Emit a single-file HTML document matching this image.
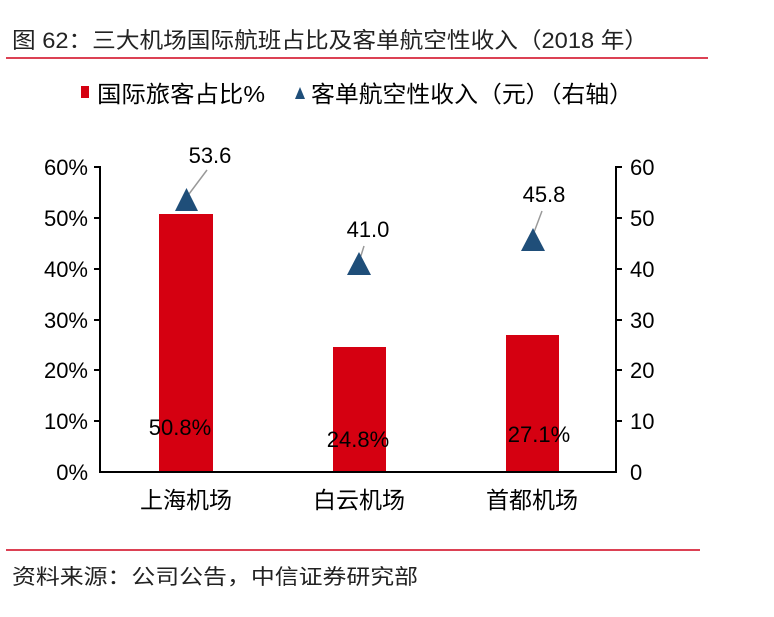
<!DOCTYPE html>
<html><head><meta charset="utf-8"><style>
body{margin:0;background:#fff;}
svg text{font-family:"Liberation Sans","Noto Sans CJK SC",sans-serif;}
</style></head><body>
<svg width="774" height="612" xmlns="http://www.w3.org/2000/svg">
<text x="12" y="48" font-size="22" fill="#222" textLength="636" lengthAdjust="spacingAndGlyphs">图 62：三大机场国际航班占比及客单航空性收入（2018 年）</text>
<line x1="6" y1="58" x2="708" y2="58" stroke="#d0021b" stroke-width="1.5"/>
<rect x="81" y="86" width="8" height="12" fill="#d50011"/>
<text x="97" y="102" font-size="23" fill="#000" textLength="168" lengthAdjust="spacingAndGlyphs">国际旅客占比%</text>
<polygon points="295,99 305,99 300,87" fill="#1f4e79"/>
<text x="311" y="102" font-size="23" fill="#000" textLength="322" lengthAdjust="spacingAndGlyphs">客单航空性收入（元）（右轴）</text>
<rect x="159" y="214" width="54" height="258" fill="#d50011"/>
<rect x="333" y="347" width="53" height="125" fill="#d50011"/>
<rect x="506" y="335" width="53" height="137" fill="#d50011"/>
<g stroke="#000" stroke-width="2">
<line x1="100" y1="166" x2="100" y2="473"/>
<line x1="99" y1="472" x2="617" y2="472"/>
<line x1="616" y1="166" x2="616" y2="473"/>
<line x1="94" y1="167" x2="100" y2="167"/><line x1="94" y1="218" x2="100" y2="218"/><line x1="94" y1="269" x2="100" y2="269"/><line x1="94" y1="320" x2="100" y2="320"/><line x1="94" y1="370" x2="100" y2="370"/><line x1="94" y1="421" x2="100" y2="421"/>
<line x1="616" y1="167" x2="622" y2="167"/><line x1="616" y1="218" x2="622" y2="218"/><line x1="616" y1="269" x2="622" y2="269"/><line x1="616" y1="320" x2="622" y2="320"/><line x1="616" y1="370" x2="622" y2="370"/><line x1="616" y1="421" x2="622" y2="421"/>
</g>
<g font-size="22" fill="#000" text-anchor="end">
<text x="88" y="175">60%</text><text x="88" y="226">50%</text><text x="88" y="277">40%</text><text x="88" y="328">30%</text><text x="88" y="378">20%</text><text x="88" y="429">10%</text><text x="88" y="480">0%</text>
</g>
<g font-size="22" fill="#000">
<text x="630" y="175">60</text><text x="630" y="226">50</text><text x="630" y="277">40</text><text x="630" y="328">30</text><text x="630" y="378">20</text><text x="630" y="429">10</text><text x="630" y="480">0</text>
</g>
<g font-size="23" fill="#000" text-anchor="middle">
<text x="186" y="508">上海机场</text><text x="359" y="508">白云机场</text><text x="532" y="508">首都机场</text>
</g>
<g font-size="22" fill="#000" text-anchor="middle">
<text x="180" y="435">50.8%</text><text x="358" y="447">24.8%</text><text x="539" y="442">27.1%</text>
<text x="210" y="163">53.6</text><text x="368" y="237">41.0</text><text x="544" y="202">45.8</text>
</g>
<g stroke="#999" stroke-width="1.5">
<line x1="207" y1="170" x2="186" y2="198"/>
<line x1="364" y1="246" x2="359" y2="262"/>
<line x1="542" y1="211" x2="533" y2="235"/>
</g>
<polygon points="175,211 198,211 186.5,188" fill="#1f4e79"/>
<polygon points="347,275 371,275 359,252" fill="#1f4e79"/>
<polygon points="521,251 545,251 533,228" fill="#1f4e79"/>
<line x1="6" y1="550" x2="700" y2="550" stroke="#d0021b" stroke-width="1.5"/>
<text x="12" y="584" font-size="21" fill="#222" textLength="406" lengthAdjust="spacingAndGlyphs">资料来源：公司公告，中信证券研究部</text>
</svg>
</body></html>
